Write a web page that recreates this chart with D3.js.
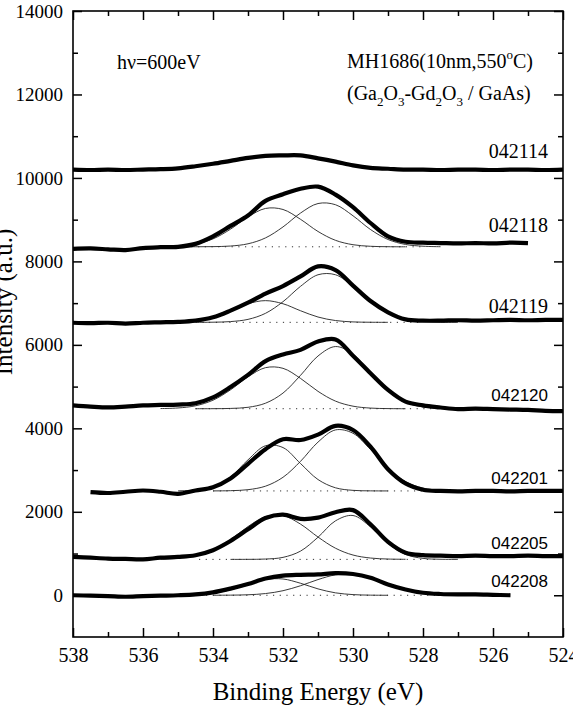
<!DOCTYPE html>
<html><head><meta charset="utf-8">
<script src="https://cdn.jsdelivr.net/npm/d3@7"></script>
<style>body{margin:0;background:#fff}</style>
</head><body><svg id="c" width="573" height="713"></svg>
<script>
// ---- data ----
const energies = [538,537.5,537,536.5,536,535.5,535,534.5,534,533.5,533,532.5,532,531.5,531,530.5,530,529.5,529,528.5,528,527.5,527,526.5,526,525.5,525,524.5,524];
const s042114 = [10200,10190,10200,10190,10200,10210,10230,10280,10340,10410,10480,10530,10540,10540,10470,10390,10300,10240,10220,10200,10200,10190,10200,10200,10190,10200,10200,10190,10200];
const s042118 = [8300,8310,8290,8270,8320,8340,8350,8420,8600,8850,9100,9450,9610,9740,9790,9600,9300,8920,8600,8470,8450,8440,8430,8440,8430,8450,8440,null,null];
const s042119 = [6530,6520,6530,6510,6530,6540,6550,6580,6660,6820,7010,7230,7410,7640,7880,7790,7420,7050,6780,6610,6580,6580,6590,6580,6590,6600,6590,6600,6600];
const s042120 = [4550,4520,4500,4520,4550,4560,4570,4600,4740,4990,5280,5610,5770,5880,6080,6130,5740,5320,4920,4640,4550,4500,4460,4470,4460,4450,4440,4420,4410];
const s042201 = [null,2470,2450,2480,2510,2480,2430,2510,2590,2800,3150,3500,3740,3720,3850,4060,3960,3560,3020,2680,2530,2500,2490,2500,2500,2490,2500,2500,2500];
const s042205 = [920,900,880,870,860,900,920,960,1080,1300,1580,1850,1930,1830,1860,1990,2040,1700,1280,1020,960,950,940,950,940,940,950,940,940];
const s042208 = [0,-10,-20,-35,-20,-10,0,20,70,160,270,400,470,490,500,530,510,420,260,140,60,30,20,20,10,0,null,null,null];

const compEnergies = [535.5,535,534.5,534,533.5,533,532.5,532,531.5,531,530.5,530,529.5,529,528.5,528,527.5,527];
const c042118a = [8353,8366,8414,8539,8772,9066,9269,9244,9009,8717,8505,8400,8362,8352,8350,null,null,null];
const c042118b = [null,8350,8351,8354,8368,8422,8563,8826,9158,9387,9358,9093,8764,8525,8406,8364,8352,null];
const c042119a = [6542,6550,6583,6667,6818,6985,7060,6985,6818,6667,6583,6550,6542,6540,null,null,null,null];
const c042119b = [null,null,6540,6543,6558,6611,6756,7035,7402,7680,7680,7402,7035,6756,6611,6558,6543,6540];
const c042120a = [4474,4488,4540,4674,4922,5233,5454,5438,5197,4886,4652,4531,4485,4473,4470,null,null,null];
const c042120b = [null,null,4470,4471,4477,4504,4602,4845,5269,5733,5960,5778,5327,4888,4622,4511,4478,4471];
const c042201a = [null,2503,2520,2601,2837,3245,3583,3539,3157,2773,2575,2514,2502,2500,null,null,null,null];
const c042201b = [null,null,null,2501,2506,2530,2614,2827,3209,3670,3962,3882,3492,3039,2722,2569,2516,2503];
const c042205a = [866,885,944,1085,1335,1646,1885,1910,1705,1395,1127,964,892,868,862,null,null,null];
const c042205b = [null,null,null,null,860,861,868,908,1058,1390,1784,1911,1639,1238,979,884,863,860];
const c042208a = [0,2,12,46,130,261,377,390,288,153,58,16,3,0,null,null,null,null];
const c042208b = [null,null,null,1,3,12,41,109,228,376,489,500,405,257,128,51,16,4];

// dotted backgrounds: [start energy, end energy, level]
const bg042118 = [535, 528, 8350];
const bg042119 = [534.3, 528, 6540];
const bg042120 = [534.5, 527.5, 4470];
const bg042201 = [534, 527.5, 2500];
const bg042205 = [534.4, 527.5, 860];
const bg042208 = [534.2, 527, 0];

const labels = ["042114","042118","042119","042120","042201","042205","042208"];
const labelValues = [10480, 8705, 6764, 4655, 2666, 1109, 198];

const xMajor = [538,536,534,532,530,528,526,524];
const xMinor = [537,535,533,531,529,527,525];
const yMajor = [0,2000,4000,6000,8000,10000,12000,14000];
const yMinor = [1000,3000,5000,7000,9000,11000,13000];

// ---- drawing ----
const L = 73, R = 563, T = 11, B = 637;
const x = d3.scaleLinear().domain([538,524]).range([L,R]);
const y = d3.scaleLinear().domain([-1000,14000]).range([B,T]);
const svg = d3.select('#c');
const serif = '"Liberation Serif","Times New Roman",serif';
const sans = '"Liberation Sans",Arial,sans-serif';

const plot = svg.append('g');

function dotted(bg){
  plot.append('line').attr('x1',x(bg[0])).attr('x2',x(bg[1]))
    .attr('y1',y(bg[2])).attr('y2',y(bg[2]))
    .attr('stroke','#333').attr('stroke-width',1).attr('stroke-dasharray','1.2,5.5');
}
[bg042118,bg042119,bg042120,bg042201,bg042205,bg042208].forEach(dotted);

const compLine = d3.line().x(d=>x(d[0])).y(d=>y(d[1])).curve(d3.curveCatmullRom);
[c042118a,c042118b,c042119a,c042119b,c042120a,c042120b,c042201a,c042201b,c042205a,c042205b,c042208a,c042208b].forEach(arr=>{
  const pts = compEnergies.map((e,i)=>[e,arr[i]]).filter(d=>d[1]!==null);
  plot.append('path').attr('d',compLine(pts)).attr('fill','none').attr('stroke','#222').attr('stroke-width',0.9);
});

const thickLine = d3.line().x(d=>x(d[0])).y(d=>y(d[1])).curve(d3.curveCatmullRom);
[s042114,s042118,s042119,s042120,s042201,s042205,s042208].forEach(arr=>{
  const pts = energies.map((e,i)=>[e,arr[i]]).filter(d=>d[1]!==null);
  plot.append('path').attr('d',thickLine(pts)).attr('fill','none').attr('stroke','#000')
    .attr('stroke-width',4.2).attr('stroke-linejoin','round').attr('stroke-linecap','butt');
});

// axes
function styleAxis(g){
  g.select('.domain').remove();
  g.selectAll('line').attr('stroke','#000').attr('stroke-width',1.5);
  g.selectAll('text').attr('fill','#000');
}
svg.append('g').attr('transform',`translate(0,${B})`)
  .call(d3.axisBottom(x).tickValues(xMajor).tickSizeInner(-9).tickSizeOuter(0).tickPadding(11).tickFormat(d3.format('d')))
  .call(styleAxis).attr('font-family',serif).attr('font-size',20);
svg.append('g').attr('transform',`translate(0,${B})`)
  .call(d3.axisBottom(x).tickValues(xMinor).tickSizeInner(-5).tickSizeOuter(0).tickFormat(''))
  .call(styleAxis);
svg.append('g').attr('transform',`translate(0,${T})`)
  .call(d3.axisTop(x).tickValues(xMajor).tickSizeInner(-9).tickSizeOuter(0).tickFormat(''))
  .call(styleAxis);
svg.append('g').attr('transform',`translate(0,${T})`)
  .call(d3.axisTop(x).tickValues(xMinor).tickSizeInner(-5).tickSizeOuter(0).tickFormat(''))
  .call(styleAxis);
svg.append('g').attr('transform',`translate(${L},0)`)
  .call(d3.axisLeft(y).tickValues(yMajor).tickSizeInner(-9).tickSizeOuter(0).tickPadding(10).tickFormat(d3.format('d')))
  .call(styleAxis).attr('font-family',serif).attr('font-size',19);
svg.append('g').attr('transform',`translate(${L},0)`)
  .call(d3.axisLeft(y).tickValues(yMinor).tickSizeInner(-5).tickSizeOuter(0).tickFormat(''))
  .call(styleAxis);
svg.append('g').attr('transform',`translate(${R},0)`)
  .call(d3.axisRight(y).tickValues(yMajor).tickSizeInner(-9).tickSizeOuter(0).tickFormat(''))
  .call(styleAxis);
svg.append('g').attr('transform',`translate(${R},0)`)
  .call(d3.axisRight(y).tickValues(yMinor).tickSizeInner(-5).tickSizeOuter(0).tickFormat(''))
  .call(styleAxis);

svg.append('rect').attr('x',L).attr('y',T).attr('width',R-L).attr('height',B-T)
  .attr('fill','none').attr('stroke','#000').attr('stroke-width',1.6);

// titles
svg.append('text').attr('x',(L+R)/2).attr('y',700).attr('text-anchor','middle')
  .attr('font-family',serif).attr('font-size',25).text('Binding Energy (eV)');
svg.append('text').attr('transform','translate(12,302) rotate(-90)').attr('text-anchor','middle')
  .attr('font-family',serif).attr('font-size',25).text('Intensity (a.u.)');

// annotations
svg.append('text').attr('x',117).attr('y',69).attr('font-family',serif).attr('font-size',20).text('hν=600eV');
const t1 = svg.append('text').attr('x',347).attr('y',68).attr('font-family',serif).attr('font-size',20);
t1.append('tspan').text('MH1686(10nm,550');
t1.append('tspan').attr('dy',-9).attr('font-size',13).text('o');
t1.append('tspan').attr('dy',9).text('C)');
const t2 = svg.append('text').attr('x',347).attr('y',100).attr('font-family',serif).attr('font-size',20);
[['(Ga',0],['2',1],['O',0],['3',1],['-Gd',0],['2',1],['O',0],['3',1],[' / GaAs)',0]].forEach(([s,sub],i,arr)=>{
  const prevSub = i>0 ? arr[i-1][1] : 0;
  const dy = (sub?6:0) - (prevSub?6:0);
  t2.append('tspan').attr('dy',dy).attr('font-size',sub?13:20).text(s);
});

// spectrum labels
const labelFont = [serif,serif,serif,sans,sans,sans,sans];
const labelSize = [20,20,20,17,17,17,17];
labels.forEach((l,i)=>{
  svg.append('text').attr('x',548).attr('y',y(labelValues[i])).attr('text-anchor','end')
    .attr('font-family',labelFont[i]).attr('font-size',labelSize[i]).text(l);
});
</script></body></html>
